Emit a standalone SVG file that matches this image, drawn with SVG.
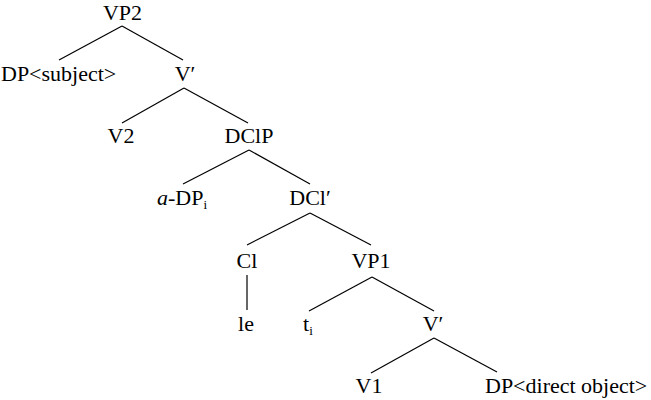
<svg xmlns="http://www.w3.org/2000/svg" width="651" height="400" viewBox="0 0 651 400" font-family="Times New Roman">
<rect width="651" height="400" fill="#fff"/>
<g id="edges" stroke="#000" stroke-width="1.2">
<line x1="122" y1="26" x2="59" y2="60"/>
<line x1="122" y1="26" x2="183" y2="60"/>
<line x1="184" y1="88" x2="122" y2="123"/>
<line x1="184" y1="88" x2="248" y2="123"/>
<line x1="249" y1="150" x2="183" y2="184"/>
<line x1="249" y1="150" x2="310" y2="184"/>
<line x1="310" y1="213" x2="247" y2="245"/>
<line x1="310" y1="213" x2="371" y2="245"/>
<line x1="247" y1="275" x2="247" y2="310"/>
<line x1="372" y1="277" x2="309" y2="311"/>
<line x1="372" y1="277" x2="434" y2="311"/>
<line x1="434" y1="338" x2="371" y2="373"/>
<line x1="434" y1="338" x2="497" y2="372"/>
</g>
<g id="vp2"><text font-family="Times New Roman" font-size="22" text-anchor="middle" x="122.5" y="20">VP2</text></g>
<g id="dpsubj"><text font-family="Times New Roman" font-size="22" x="1" y="81">DP&lt;subject&gt;</text></g>
<g id="vbar2"><text font-family="Times New Roman" font-size="22" text-anchor="middle" x="185" y="81">V′</text></g>
<g id="v2"><text font-family="Times New Roman" font-size="22" text-anchor="middle" x="121" y="143">V2</text></g>
<g id="dclp"><text font-family="Times New Roman" font-size="22" text-anchor="middle" x="249" y="143">DClP</text></g>
<g id="adp"><text font-family="Times New Roman" font-size="22" x="157" y="205"><tspan font-style="italic">a</tspan>-DP<tspan font-size="13" dy="4">i</tspan></text></g>
<g id="dclbar"><text font-family="Times New Roman" font-size="22" text-anchor="middle" x="310" y="205">DCl′</text></g>
<g id="cl"><text font-family="Times New Roman" font-size="22" text-anchor="middle" x="247" y="268">Cl</text></g>
<g id="vp1"><text font-family="Times New Roman" font-size="22" text-anchor="middle" x="371" y="268">VP1</text></g>
<g id="le"><text font-family="Times New Roman" font-size="22" text-anchor="middle" x="246" y="331">le</text></g>
<g id="ti"><text font-family="Times New Roman" font-size="22" x="303" y="331">t<tspan font-size="13" dy="4">i</tspan></text></g>
<g id="vbar1"><text font-family="Times New Roman" font-size="22" text-anchor="middle" x="433" y="331">V′</text></g>
<g id="v1"><text font-family="Times New Roman" font-size="22" text-anchor="middle" x="369" y="393">V1</text></g>
<g id="dpobj"><text font-family="Times New Roman" font-size="22" x="485" y="393">DP&lt;direct object&gt;</text></g>
</svg>
